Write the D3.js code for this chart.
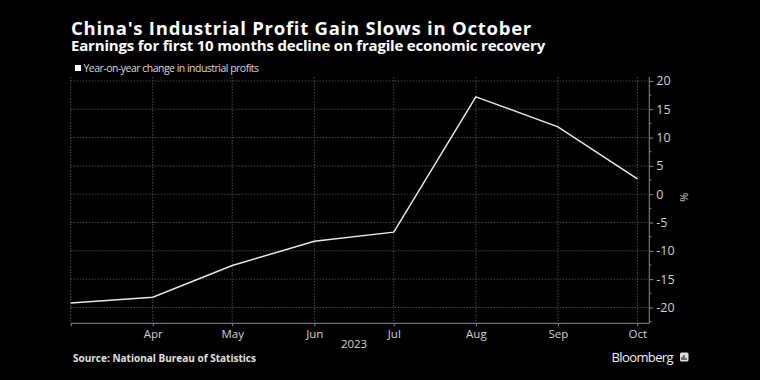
<!DOCTYPE html>
<html><head><meta charset="utf-8">
<script src="https://cdn.jsdelivr.net/npm/d3@7"></script>
<style>
html,body{margin:0;padding:0;background:#000;}
svg{display:block;}
text{font-family:"Open Sans","Noto Sans",sans-serif;}
</style></head>
<body>
<svg id="c" width="760" height="380"></svg>
<script>
const months = ["2023-03","2023-04","2023-05","2023-06","2023-07","2023-08","2023-09","2023-10"];
const values = [-19.2,-18.2,-12.6,-8.3,-6.7,17.2,11.9,2.7];
const monthLabels = ["","Apr","May","Jun","Jul","Aug","Sep","Oct"];
const yTicks = [-20,-15,-10,-5,0,5,10,15,20];
const title = "China's Industrial Profit Gain Slows in October";
const subtitle = "Earnings for first 10 months decline on fragile economic recovery";
const legendLabel = "Year-on-year change in industrial profits";
const source = "Source: National Bureau of Statistics";

const svg = d3.select("#c");
svg.append("rect").attr("width",760).attr("height",380).attr("fill","#000");

const parse = d3.timeParse("%Y-%m");
const dates = months.map(parse);
const L=70.7, R=649.3, T=77, B=323.3;
const x = d3.scaleTime().domain([dates[0], new Date(2023,9,5,12)]).range([L,R]);
const y = d3.scaleLinear().domain([-22.8,20.7]).range([B,T]);

function fitSpacing(sel, w){
  const n = sel.node();
  const cur = n.getComputedTextLength();
  const len = sel.text().length;
  sel.attr("letter-spacing", ((w-cur)/len).toFixed(3));
}

// grid
const g = svg.append("g");
g.selectAll(".hg").data(yTicks).join("line")
  .attr("x1",L).attr("x2",R).attr("y1",d=>y(d)).attr("y2",d=>y(d))
  .attr("stroke","#4a4a4a").attr("stroke-width",1).attr("stroke-dasharray","1.5,1.5");
g.selectAll(".vg").data(dates).join("line")
  .attr("x1",d=>x(d)).attr("x2",d=>x(d)).attr("y1",T).attr("y2",B)
  .attr("stroke","#4a4a4a").attr("stroke-width",1).attr("stroke-dasharray","1.5,1.5");

// right axis
const ya = d3.axisRight(y).tickValues(yTicks).tickSize(4).tickPadding(3).tickFormat(d=>d);
const yag = svg.append("g").attr("transform",`translate(${R},0)`).call(ya);
yag.select(".domain").attr("stroke","#8a8a8a").attr("d",`M0,${T}V${B}`);
yag.selectAll(".tick line").attr("stroke","#8a8a8a");
yag.selectAll(".tick text").attr("fill","#d0d0d0").attr("font-size",12.5);
const minor = d3.range(-22.5,21,2.5).filter(v=>!yTicks.includes(v));
yag.selectAll(".mt").data(minor).join("line")
  .attr("x1",0).attr("x2",2).attr("y1",d=>y(d)).attr("y2",d=>y(d)).attr("stroke","#8a8a8a");

svg.append("text").attr("transform",`translate(680,${y(0)+3}) rotate(90)`)
  .attr("text-anchor","middle").attr("fill","#d0d0d0").attr("font-size",11).text("%");

// bottom axis
const xa = d3.axisBottom(x).tickValues(dates).tickSize(3).tickPadding(4)
  .tickFormat((d,i)=>monthLabels[i]);
const xag = svg.append("g").attr("transform",`translate(0,${B})`).call(xa);
xag.select(".domain").attr("stroke","#8a8a8a").attr("d",`M${L},0H${R}`);
xag.selectAll(".tick line").attr("stroke","#8a8a8a");
xag.selectAll(".tick text").attr("fill","#d0d0d0").attr("font-size",11.5);
svg.append("text").attr("x",(x(dates[0])+x(dates[7]))/2).attr("y",348)
  .attr("text-anchor","middle").attr("fill","#d0d0d0").attr("font-size",11.5).text("2023");

// line
const line = d3.line().x((d,i)=>x(dates[i])).y(d=>y(d));
svg.append("path").datum(values).attr("d",line).attr("fill","none")
  .attr("stroke","#e8e8e8").attr("stroke-width",1.5).attr("stroke-linejoin","miter");

// titles
const t1 = svg.append("text").attr("x",71).attr("y",35).attr("fill","#fff")
  .attr("font-weight","bold").attr("font-size",18.5).text(title);
fitSpacing(t1, 461);
const t2 = svg.append("text").attr("x",71).attr("y",50.5).attr("fill","#fff")
  .attr("font-weight","bold").attr("font-size",15).text(subtitle);
fitSpacing(t2, 474);

// legend
svg.append("rect").attr("x",75).attr("y",65).attr("width",6).attr("height",6).attr("fill","#fff");
const lg = svg.append("text").attr("x",83.5).attr("y",71.5).attr("fill","#d8d8d8")
  .attr("font-size",10.5).text(legendLabel);
fitSpacing(lg, 175);

// source
const sc = svg.append("text").attr("x",73).attr("y",361.5).attr("fill","#e0e0e0")
  .attr("font-weight","bold").attr("font-size",10).text(source);
fitSpacing(sc, 183);

// Bloomberg
const bb = svg.append("text").attr("x",611.5).attr("y",361.5).attr("fill","#f0f0f0")
  .attr("font-size",13).text("Bloomberg");
fitSpacing(bb, 61.5);
svg.append("rect").attr("x",680).attr("y",352.5).attr("width",8.5).attr("height",9).attr("rx",1.5).attr("fill","#ddd");
svg.append("path").attr("d","M682,360V357M684,360V355M686,360V358").attr("stroke","#000").attr("stroke-width",1);
</script>
</body></html>
